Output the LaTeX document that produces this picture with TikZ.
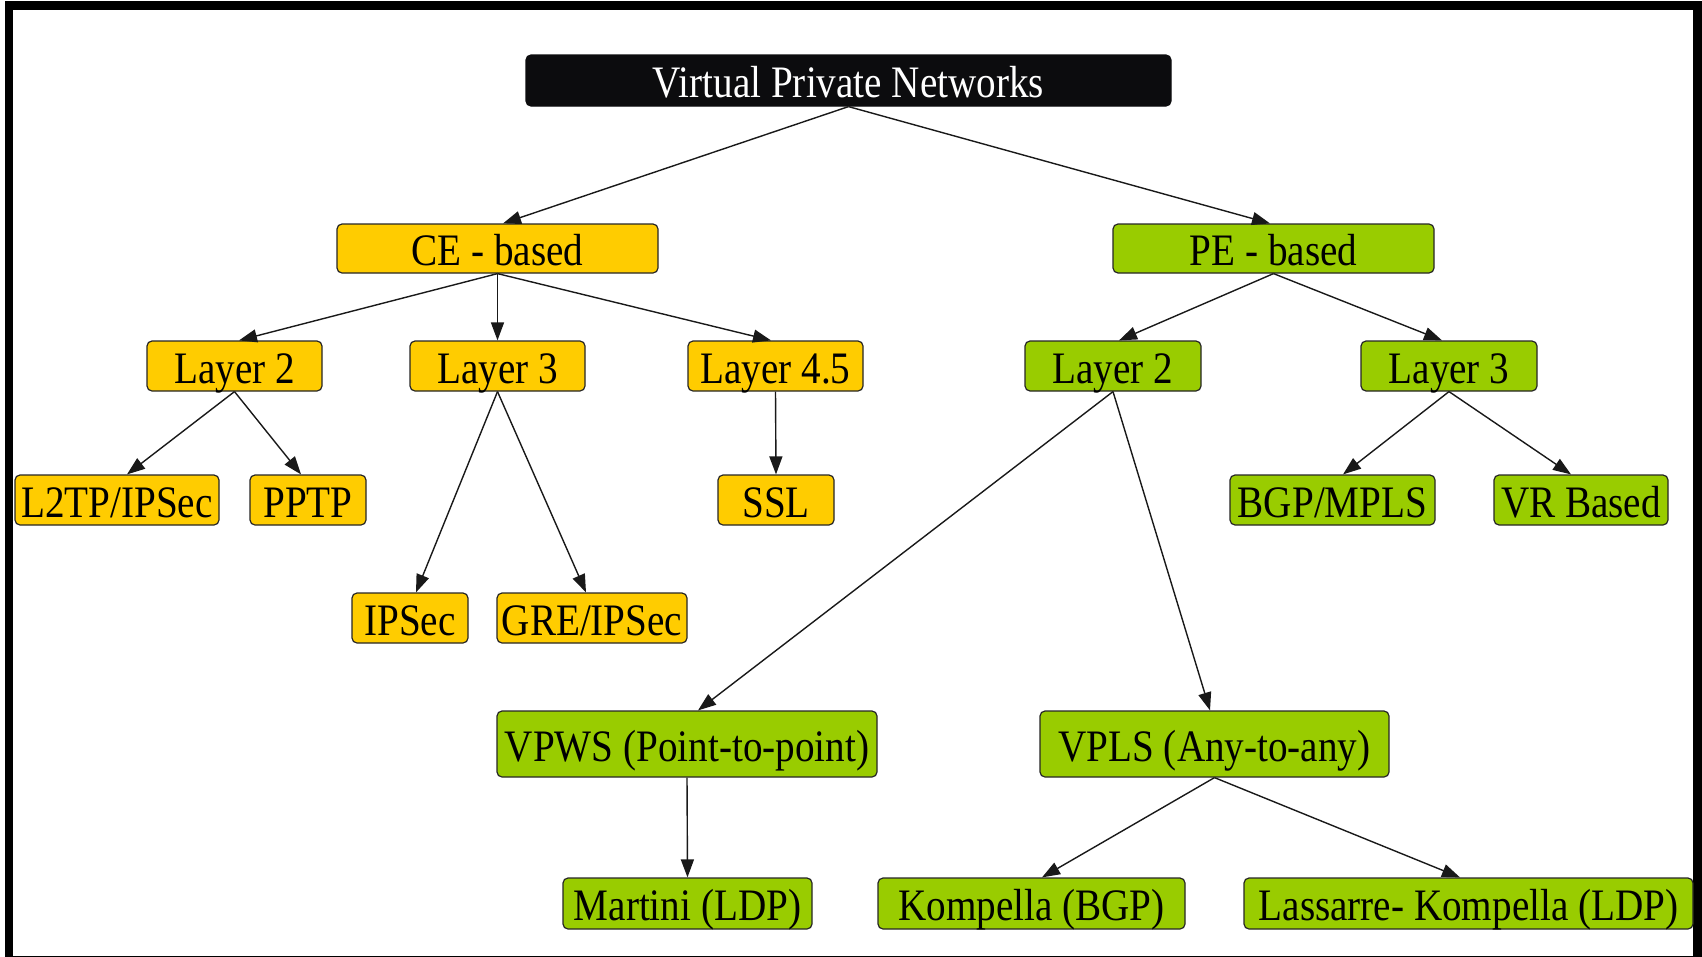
\documentclass[tikz,border=0pt]{standalone}
\usepackage{fontspec}
\setmainfont{Liberation Serif}[FakeStretch=0.87]
\usetikzlibrary{arrows.meta}
\definecolor{ceyellow}{HTML}{FFCC00}
\definecolor{pegreen}{HTML}{99CC00}
\definecolor{rootblack}{HTML}{0C0C0E}
\begin{document}
\begin{tikzpicture}[x=1pt,y=-1pt,
  box/.style={draw=black!85, line width=1.2pt, rounded corners=5pt, inner sep=0pt,
    minimum height=50pt, font=\fontsize{45}{50}\selectfont, text=black,
    text height=38pt, text depth=4pt},
  ce/.style={box, fill=ceyellow},
  pe/.style={box, fill=pegreen},
  rootbox/.style={box, fill=rootblack, draw=rootblack, text=white},
  link/.style={draw=black!90, line width=1.4pt, -{Triangle[length=18pt,width=13pt]}}]
\useasboundingbox (0,0) rectangle (1702,956);
\draw[line width=8.5pt] (9,5.5) rectangle (1697.5,960);

\node[rootbox, minimum width=645pt, minimum height=51pt] (vpn) at (848.5,80.5) {Virtual Private Networks};

\node[ce, minimum width=321pt, minimum height=49pt] (ceb) at (497.5,248.5) {CE - based};
\node[pe, minimum width=321pt, minimum height=49pt] (peb) at (1273.5,248.5) {PE - based};

\node[ce, minimum width=175pt] (l2ce) at (234.5,366) {Layer 2};
\node[ce, minimum width=175pt] (l3ce) at (497.5,366) {Layer 3};
\node[ce, minimum width=175pt] (l45) at (775.5,366) {Layer 4.5};
\node[pe, minimum width=176pt] (l2pe) at (1113,366) {Layer 2};
\node[pe, minimum width=176pt] (l3pe) at (1449,366) {Layer 3};

\node[ce, minimum width=204pt] (l2tp) at (117,500) {L2TP/IPSec};
\node[ce, minimum width=116pt] (pptp) at (308,500) {PPTP};
\node[ce, minimum width=116pt] (ssl) at (776,500) {SSL};
\node[pe, minimum width=205pt] (bgp) at (1332.5,500) {BGP/MPLS};
\node[pe, minimum width=174pt] (vr) at (1581,500) {VR Based};

\node[ce, minimum width=116pt] (ipsec) at (410,618) {IPSec};
\node[ce, minimum width=190pt] (gre) at (592,618) {GRE/IPSec};

\node[pe, minimum width=380pt, minimum height=66pt] (vpws) at (687,744) {VPWS (Point-to-point)};
\node[pe, minimum width=349pt, minimum height=66pt] (vpls) at (1214.5,744) {VPLS (Any-to-any)};

\node[pe, minimum width=249pt, minimum height=51pt] (martini) at (687.5,903.5) {Martini (LDP)};
\node[pe, minimum width=307pt, minimum height=51pt] (kompella) at (1031.5,903.5) {Kompella (BGP)};
\node[pe, minimum width=449pt, minimum height=51pt] (lassarre) at (1468.5,903.5) {Lassarre- Kompella (LDP)};

\draw[link] (vpn.south) -- ([xshift=5.5pt]ceb.north);
\draw[link] (vpn.south) -- ([xshift=-3.5pt]peb.north);
\draw[link] (ceb.south) -- ([xshift=4.5pt]l2ce.north);
\draw[link] (ceb.south) -- (l3ce.north);
\draw[link] (ceb.south) -- ([xshift=-4.5pt]l45.north);
\draw[link] (peb.south) -- ([xshift=6pt]l2pe.north);
\draw[link] (peb.south) -- ([xshift=-7pt]l3pe.north);
\draw[link] (l2ce.south) -- ([xshift=10pt]l2tp.north);
\draw[link] (l2ce.south) -- ([xshift=-7pt]pptp.north);
\draw[link] (l3ce.south) -- ([xshift=6pt]ipsec.north);
\draw[link] (l3ce.south) -- ([xshift=-6pt]gre.north);
\draw[link] (l45.south) -- (ssl.north);
\draw[link] (l2pe.south) -- ([xshift=11pt]vpws.north);
\draw[link] (l2pe.south) -- ([xshift=-4.5pt]vpls.north);
\draw[link] (l3pe.south) -- ([xshift=10.5pt]bgp.north);
\draw[link] (l3pe.south) -- ([xshift=-10pt]vr.north);
\draw[link] (vpws.south) -- (martini.north);
\draw[link] (vpls.south) -- ([xshift=10.5pt]kompella.north);
\draw[link] (vpls.south) -- ([xshift=-8.5pt]lassarre.north);
\end{tikzpicture}
\end{document}
